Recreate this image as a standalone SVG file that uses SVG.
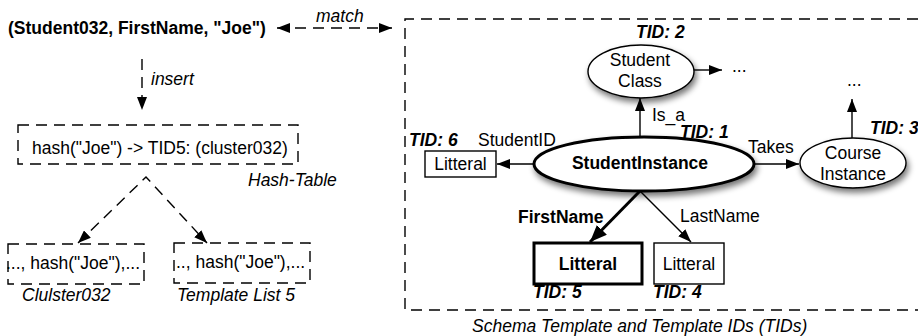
<svg xmlns="http://www.w3.org/2000/svg" width="918" height="336" viewBox="0 0 918 336">
<style>
text{font-family:"Liberation Sans",Arial,Helvetica,sans-serif;font-size:17.5px;fill:#000}
.b{font-weight:bold}
.i{font-style:italic}
.bi{font-weight:bold;font-style:italic}
.m{text-anchor:middle}
.dash{fill:none;stroke:#000;stroke-width:1.4;stroke-dasharray:11,7}
.ln{fill:none;stroke:#000;stroke-width:1.4}
.thick{fill:none;stroke:#000;stroke-width:3}
.node{fill:#fff;stroke:#000;stroke-width:1.4}
.nodeB{fill:#fff;stroke:#000;stroke-width:3}
</style>
<defs>
<marker id="ah" markerUnits="userSpaceOnUse" markerWidth="14" markerHeight="10" refX="13" refY="5" orient="auto-start-reverse"><path d="M0,0 L13,5 L0,10 z" fill="#000"/></marker>
<marker id="ahB" markerUnits="userSpaceOnUse" markerWidth="18" markerHeight="14" refX="17" refY="7" orient="auto"><path d="M0,0 L17,7 L0,14 z" fill="#000"/></marker>
<filter id="sh" x="-20%" y="-20%" width="150%" height="170%"><feGaussianBlur in="SourceAlpha" stdDeviation="3"/><feOffset dx="2" dy="4"/><feComponentTransfer><feFuncA type="linear" slope="0.55"/></feComponentTransfer><feMerge><feMergeNode/><feMergeNode in="SourceGraphic"/></feMerge></filter>
</defs>

<g id="schema-box">
<path class="dash" d="M918,19 H405 V310 H918"/>
<text class="i" x="472" y="332">Schema Template and Template IDs (TIDs)</text>
</g>

<g id="connectors">
<line class="dash" x1="277" y1="28" x2="392" y2="28" marker-start="url(#ah)" marker-end="url(#ah)"/>
<line class="dash" x1="142" y1="59" x2="142" y2="110" marker-end="url(#ah)"/>
<polyline class="dash" points="78,243 146,177 207,243"/>
<line x1="100" y1="222" x2="78" y2="243" stroke="none" marker-end="url(#ah)"/>
<line x1="185" y1="221" x2="207" y2="243" stroke="none" marker-end="url(#ah)"/>
<line class="ln" x1="640" y1="137" x2="640" y2="98" marker-end="url(#ah)"/>
<line class="ln" x1="694" y1="70" x2="722" y2="70" marker-end="url(#ah)"/>
<line class="ln" x1="535" y1="164" x2="497" y2="164" marker-end="url(#ah)"/>
<line class="ln" x1="755" y1="164" x2="799" y2="164" marker-end="url(#ah)"/>
<line class="ln" x1="852" y1="138" x2="852" y2="99" marker-end="url(#ah)"/>
<line class="thick" x1="640" y1="191" x2="590" y2="242" marker-end="url(#ahB)"/>
<line class="ln" x1="640" y1="191" x2="691" y2="242" marker-end="url(#ah)"/>
<text class="i" x="316" y="22">match</text>
<text class="i" x="151" y="85">insert</text>
<text x="652" y="121">Is_a</text>
<text x="478" y="146">StudentID</text>
<text x="748" y="153">Takes</text>
<text class="b" x="518" y="223">FirstName</text>
<text x="680" y="222">LastName</text>
<text x="732" y="72">...</text>
<text x="847" y="86">...</text>
</g>

<g id="triple">
<text class="b" x="8" y="34">(Student032, FirstName, "Joe")</text>
</g>

<g id="hash-table">
<rect class="dash" x="18" y="125" width="280" height="39"/>
<text x="32" y="154">hash("Joe") -&gt; TID5: (cluster032)</text>
<text class="i" x="248" y="186">Hash-Table</text>
</g>

<g id="cluster032">
<rect class="dash" x="8" y="244" width="136" height="40"/>
<text x="6" y="269">..., hash("Joe"),...</text>
<text class="i" x="22" y="301">Clulster032</text>
</g>

<g id="template-list-5">
<rect class="dash" x="174" y="243" width="136" height="40"/>
<text x="176" y="268">.., hash("Joe"),...</text>
<text class="i" x="177" y="301">Template List 5</text>
</g>

<g id="student-class">
<ellipse class="node" cx="641" cy="71.5" rx="53" ry="26.5" filter="url(#sh)"/>
<text class="m" x="640" y="66">Student</text>
<text class="m" x="640" y="87">Class</text>
<text class="bi" x="636" y="38">TID: 2</text>
</g>

<g id="student-instance">
<ellipse class="nodeB" cx="644" cy="164" rx="110" ry="27" filter="url(#sh)"/>
<text class="b m" x="640" y="169">StudentInstance</text>
<text class="bi" x="680" y="138">TID: 1</text>
</g>

<g id="course-instance">
<ellipse class="node" cx="853" cy="163" rx="53" ry="25" filter="url(#sh)"/>
<text class="m" x="853" y="159">Course</text>
<text class="m" x="853" y="180">Instance</text>
<text class="bi" x="870" y="134">TID: 3</text>
</g>

<g id="litteral-6">
<rect class="node" x="425" y="151" width="71" height="26"/>
<text class="m" x="460.5" y="170">Litteral</text>
<text class="bi" x="409" y="146">TID: 6</text>
</g>

<g id="litteral-5">
<rect class="nodeB" x="534" y="243" width="108" height="41"/>
<text class="b m" x="588" y="270">Litteral</text>
<text class="bi" x="533" y="298">TID: 5</text>
</g>

<g id="litteral-4">
<rect class="node" x="654" y="243" width="70" height="41"/>
<text class="m" x="689" y="270">Litteral</text>
<text class="bi" x="653" y="298">TID: 4</text>
</g>
</svg>
